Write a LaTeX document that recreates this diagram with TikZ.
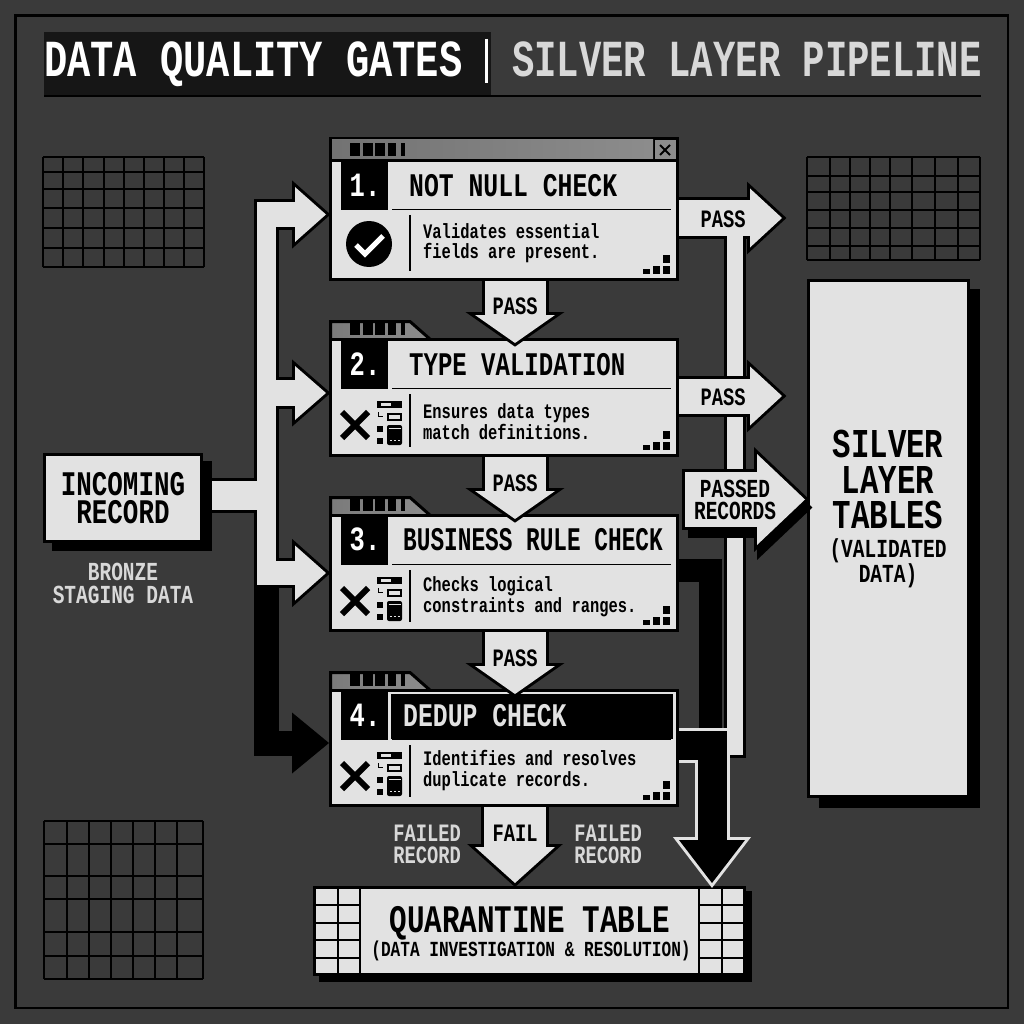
\documentclass[tikz,border=0pt]{standalone}
\usepackage{fontspec}
\usepackage{graphicx}
\usetikzlibrary{arrows.meta,positioning}

\newfontfamily\diagfont[FakeStretch=0.75]{Liberation Mono}
\newcommand{\fs}[2]{\fontsize{#1}{#2}\selectfont}

\definecolor{panel}{HTML}{3A3A3A}
\definecolor{paper}{HTML}{E2E2E2}
\definecolor{soft}{HTML}{D8D8D8}
\definecolor{band}{HTML}{161616}
\colorlet{flowfill}{paper}
\colorlet{flowedge}{black}

\tikzset{
  flowback/.style n args={3}{
    /utils/exec={\pgfmathsetmacro\flowe{3*veclen(#2,#3/2)/(#3/2)}%
      \pgfmathsetmacro\flowl{#2+\flowe+3}\pgfmathsetmacro\floww{#3*\flowl/#2}},
    draw=flowedge, line width=#1pt+6pt, shorten >=-\flowe pt,
    -{Triangle[length=\flowl pt,width=\floww pt,line width=0pt,fill=flowedge,color=flowedge]}},
  flowfront/.style n args={3}{
    draw=flowfill, line width=#1pt,
    -{Triangle[length=#2pt,width=#3pt,line width=0pt,fill=flowfill,color=flowfill]}},
  pipeback/.style={draw=flowedge, line width=#1pt+6pt, shorten >=-3pt, shorten <=-3pt},
  pipefront/.style={draw=flowfill, line width=#1pt},
  gatecard/.style={draw=black, fill=paper, line width=3pt, anchor=north west,
    minimum width=347pt, inner sep=0pt},
  plate/.style={draw=black, fill=paper, line width=3pt, inner sep=0pt},
  tabbar/.style={draw=black, line width=3pt, left color=black!52, right color=black!45},
  gridline/.style={draw=black, line width=1.6pt},
  headtext/.style={font=\diagfont\bfseries\fs{33}{33}, anchor=base west, inner sep=0pt},
  numtext/.style={font=\diagfont\bfseries\fs{34}{34}, text=white, anchor=base, inner sep=0pt},
  desctext/.style={font=\diagfont\bfseries\fs{20.6}{20.5}, anchor=west, align=left, inner sep=0pt},
  flowtext/.style={font=\diagfont\bfseries\fs{25}{22}, align=center, inner sep=0pt},
  softtext/.style={flowtext, text=soft},
}

\newcommand{\blockflow}[4]{%
  \draw[flowback={#1}{#2}{#3}] #4;
  \draw[flowfront={#1}{#2}{#3}] #4;
}

\begin{document}
\begin{tikzpicture}[x=1pt,y=-1pt]
  \useasboundingbox (0,0) rectangle (1024,1024);
  \fill[panel] (0,0) rectangle (1024,1024);
  \draw[black,line width=2.5pt] (15.5,15.5) rectangle (1008,1008);

  % title strip
  \fill[band] (44,32) rectangle (491,95);
  \draw[black,line width=2.5pt] (44,96) -- (981,96);
  \node[font=\diagfont\bfseries\fs{52}{52},text=white,anchor=base west,inner sep=0pt] (titleA) at (44,77) {\scalebox{.993}[1]{DATA QUALITY GATES}};
  \draw[white,line width=3pt] (486,39) -- (486,83);
  \node[font=\diagfont\bfseries\fs{52}{52},text=soft,anchor=base west,inner sep=0pt] (titleB) at (512,77) {\scalebox{.955}[1]{SILVER LAYER PIPELINE}};

  % corner grids
  \foreach \gx in {43,63,83,104,124,144,164,184,204} \draw[gridline] (\gx,157) -- (\gx,267);
  \foreach \gy in {157,172,189,208,228,248,267} \draw[gridline] (43,\gy) -- (204,\gy);
  \foreach \gx in {807,830,850,870,890,912,935,958,980} \draw[gridline] (\gx,157) -- (\gx,260);
  \foreach \gy in {157,176,192,210,228,246,260} \draw[gridline] (807,\gy) -- (980,\gy);
  \foreach \gx in {44,67,89,111,133,155,177,203} \draw[gridline] (\gx,821) -- (\gx,979);
  \foreach \gy in {821,844,876,899,932,956,979} \draw[gridline] (44,\gy) -- (203,\gy);

  % window bars behind the cards
  \fill[black] (329,137) rectangle (679,162);
  \shade[left color=black!55,right color=black!45] (332,140) rectangle (653,159);
  \fill[black!45] (655,140) rectangle (676,159);
  \draw[black,line width=2pt] (660,145) -- (670,155) (670,145) -- (660,155);
  \foreach \top in {341,517,692}
    \draw[tabbar,shift={(0,\top)}] (330.5,-19.5) -- (410,-19.5) -- (431,-1) -- (330.5,-1) -- cycle;
  \foreach \top in {162,341,517,692}
    \foreach \bx/\bw in {350/10,363/10,375/10,388/8,401/4}
      \fill[black,shift={(0,\top)}] (\bx,-19) rectangle ++(\bw,13);

  % gate cards
  \foreach \id/\num/\top/\bot/\tx/\fx/\hy/\dy/\strip/\ink/\head/\lineA/\lineB in {
    A/1/162/278/409/1/35/81/paper/black/NOT NULL CHECK/Validates essential/fields are present.,
    B/2/341/454/409/.97/34/80.5/paper/black/TYPE VALIDATION/Ensures data types/match definitions.,
    C/3/517/629/403/.92/33/79.5/paper/black/BUSINESS RULE CHECK/Checks logical/constraints and ranges.,
    D/4/692/804/403/1/34/78.5/black/paper/DEDUP CHECK/Identifies and resolves/duplicate records.}
  {
    \pgfmathsetmacro\hgt{\bot-\top+3}
    \pgfmathsetmacro\low{\bot-\top}
    \node[gatecard,minimum height=\hgt pt] (gate\id) at (329,{\top-3}) {};
    \begin{scope}[shift={(0,\top)}]
      \fill[\strip] (391,2) rectangle (673,47);
      \draw[black,line width=1.6pt] (392,47.5) -- (671,47.5);
      \fill[black] (341,0) rectangle (388,48);
      \node[numtext] (num\id) at (365,\hy) {\num.};
      \node[headtext,text=\ink] (head\id) at (\tx,\hy) {\scalebox{\fx}[1]{\head}};
      \draw[black,line width=1.6pt] (410,53) -- (410,{\low-7});
      \node[desctext] (desc\id) at (423,\dy) {\lineA\\\lineB};
      \fill[black] (643,{\low-9}) rectangle (650,{\low-4});
      \fill[black] (653,{\low-12}) rectangle (660,{\low-4});
      \fill[black] (663,{\low-12}) rectangle (670,{\low-4});
      \fill[black] (663,{\low-23}) rectangle (670,{\low-15});
    \end{scope}
  }

  % status icons
  \fill[black] (369,244) circle (23);
  \draw[white,line width=5pt] (356,245) -- (365,254) -- (383,236);
  \foreach \top in {341,517,692}
  {
    \begin{scope}[shift={(0,\top)}]
      \draw[black,line width=6pt] (342,71) -- (368,97) (342,97) -- (368,71);
      \fill[black] (377,60) rectangle (402,67);
      \fill[paper] (380.5,62) rectangle (391,65);
      \draw[black,line width=1.3pt] (378.5,71) -- (378.5,75.5) -- (383,75.5);
      \draw[black,line width=2pt] (388,73) rectangle (401,79);
      \fill[black] (377,85) rectangle (383,91);
      \fill[black] (377,97) rectangle (383,103);
      \fill[black,rounded corners=2pt] (387,84) rectangle (402,104);
      \draw[paper,line width=.7pt] (388.5,87.5) -- (400.5,87.5);
      \foreach \dx in {390,394,398} \fill[paper] (\dx,98.5) rectangle ++(1.6,1.6);
    \end{scope}
  }

  % pass arrows between the gates
  \blockflow{61}{28}{80}{([xshift=11pt]gateA.south) -- ([xshift=11pt,yshift=-5pt]gateB.north)}
  \blockflow{61}{28}{80}{([xshift=11pt]gateB.south) -- ([xshift=11pt,yshift=-5pt]gateC.north)}
  \blockflow{61}{28}{80}{([xshift=11pt]gateC.south) -- ([xshift=11pt,yshift=-5pt]gateD.north)}
  \blockflow{62}{36}{80}{([xshift=11pt]gateD.south) -- (515,883)}
  \node[flowtext] (passAB) at (515,306) {PASS};
  \node[flowtext] (passBC) at (515,483) {PASS};
  \node[flowtext] (passCD) at (515,658) {PASS};
  \node[flowtext] (failD) at (515,833) {FAIL};
  \node[softtext] (failedL) at (427,844) {FAILED\\RECORD};
  \node[softtext] (failedR) at (608,844) {FAILED\\RECORD};

  % quarantine table
  \fill[black] (319,891) rectangle (752,982);
  \node[plate,minimum width=430pt,minimum height=87pt] (quarantine) at (529.5,931) {};
  \foreach \cx in {337.5,360,699,722} \draw[black,line width=2pt] (\cx,888) -- (\cx,974);
  \foreach \cy in {905,923,940,958}
    \draw[black,line width=2pt] (316,\cy) -- (360,\cy) (699,\cy) -- (743,\cy);
  \node[font=\diagfont\bfseries\fs{39}{39},anchor=base,inner sep=0pt] (quarantineHead) at (530,932) {QUARANTINE TABLE};
  \node[font=\diagfont\bfseries\fs{21.5}{21.5},anchor=base,inner sep=0pt] (quarantineNote) at (531,956) {(DATA INVESTIGATION \& RESOLUTION)};

  % silver tables
  \fill[black] (819,289) rectangle (980,808);
  \node[plate,minimum width=160pt,minimum height=516pt] (silver) at (888.5,538.5) {};
  \node[font=\diagfont\bfseries\fs{41}{35.5},align=center,inner sep=0pt] (silverHead) at (888,479.5) {SILVER\\LAYER\\TABLES};
  \node[font=\diagfont\bfseries\fs{26}{24},align=center,inner sep=0pt] (silverNote) at (888,563) {(VALIDATED\\DATA)};

  % incoming record
  \fill[black] (52,461) rectangle (212,551);
  \node[plate,minimum width=157pt,minimum height=87pt,font=\diagfont\bfseries\fs{34.5}{28},align=center] (incoming) at (123,498) {INCOMING\\RECORD};
  \node[softtext,font=\diagfont\bfseries\fs{26}{22.5}] (bronze) at (123,583.5) {BRONZE\\STAGING DATA};

  % branches out of the incoming record
  \coordinate (stubOut) at (212,495.5);
  \coordinate (trunkTop) at (266.5,202);
  \coordinate (trunkMid) at (266.5,495.5);
  \coordinate (trunkBot) at (266.5,585);
  \coordinate (feedA) at (326,214.5);
  \coordinate (feedB) at (326,393);
  \coordinate (feedC) at (326,573);
  \draw[black,line width=25pt,-{Triangle[length=37pt,width=61pt,line width=0pt]}] (266,585) |- (329,743);
  \draw[pipeback=19] (trunkTop) -- (trunkBot);
  \draw[black,line width=35pt] (stubOut) -- (trunkMid);
  \draw[flowback={25}{31}{55}] (trunkTop |- feedA) -- (feedA);
  \draw[flowback={26}{31}{54}] (trunkTop |- feedB) -- (feedB);
  \draw[flowback={24}{31}{55}] (trunkTop |- feedC) -- (feedC);
  \draw[pipefront=19] (trunkTop) -- (trunkBot);
  \draw[paper,line width=29pt] (stubOut) -- (trunkMid);
  \draw[flowfront={25}{31}{55}] (trunkTop |- feedA) -- (feedA);
  \draw[flowfront={26}{31}{54}] (trunkTop |- feedB) -- (feedB);
  \draw[flowfront={24}{31}{55}] (trunkTop |- feedC) -- (feedC);

  % outflow to the right
  \coordinate (outA) at (782,218);
  \coordinate (outB) at (782,396);
  \coordinate (busTop) at (735,236);
  \coordinate (busBot) at (735,755);
  \blockflow{35}{32}{59}{(gateA.east |- outA) -- (outA)}
  \draw[pipeback=16,shorten <=0pt] (busTop) -- (busBot);
  \draw[pipefront=16] (busTop) -- (busBot);
  \blockflow{35}{32}{59}{(gateB.east |- outB) -- (outB)}
  \node[flowtext] (passOutA) at (723,219) {PASS};
  \node[flowtext] (passOutB) at (723,397) {PASS};

  % passed records
  \coordinate (passedTail) at (685,499.5);
  \coordinate (passedTip) at (805,499.5);
  \draw[flowback={55}{48}{91}] ([shift={(3,8)}]passedTail) -- ([shift={(3,8)}]passedTip);
  \draw[flowback={55}{48}{91},shorten <=-3pt] (passedTail) -- (passedTip);
  \draw[flowfront={55}{48}{91}] (passedTail) -- (passedTip);
  \node[flowtext,font=\diagfont\bfseries\fs{26}{22}] (passedText) at (735,500) {PASSED\\RECORDS};

  % failed records towards quarantine
  \coordinate (failTurn) at (710,570.5);
  \coordinate (failJoin) at (710,735);
  \coordinate (dedupOut) at (712,745.5);
  \coordinate (quarantineIn) at (712,883);
  \draw[black,line width=23pt] (gateC.east |- failTurn) -- (failTurn) -- (failJoin);
  \begin{scope}
    \colorlet{flowedge}{paper}
    \colorlet{flowfill}{black}
    \blockflow{29}{43}{66}{(gateD.east |- dedupOut) -- (dedupOut) -- (quarantineIn)}
  \end{scope}
\end{tikzpicture}
\end{document}
